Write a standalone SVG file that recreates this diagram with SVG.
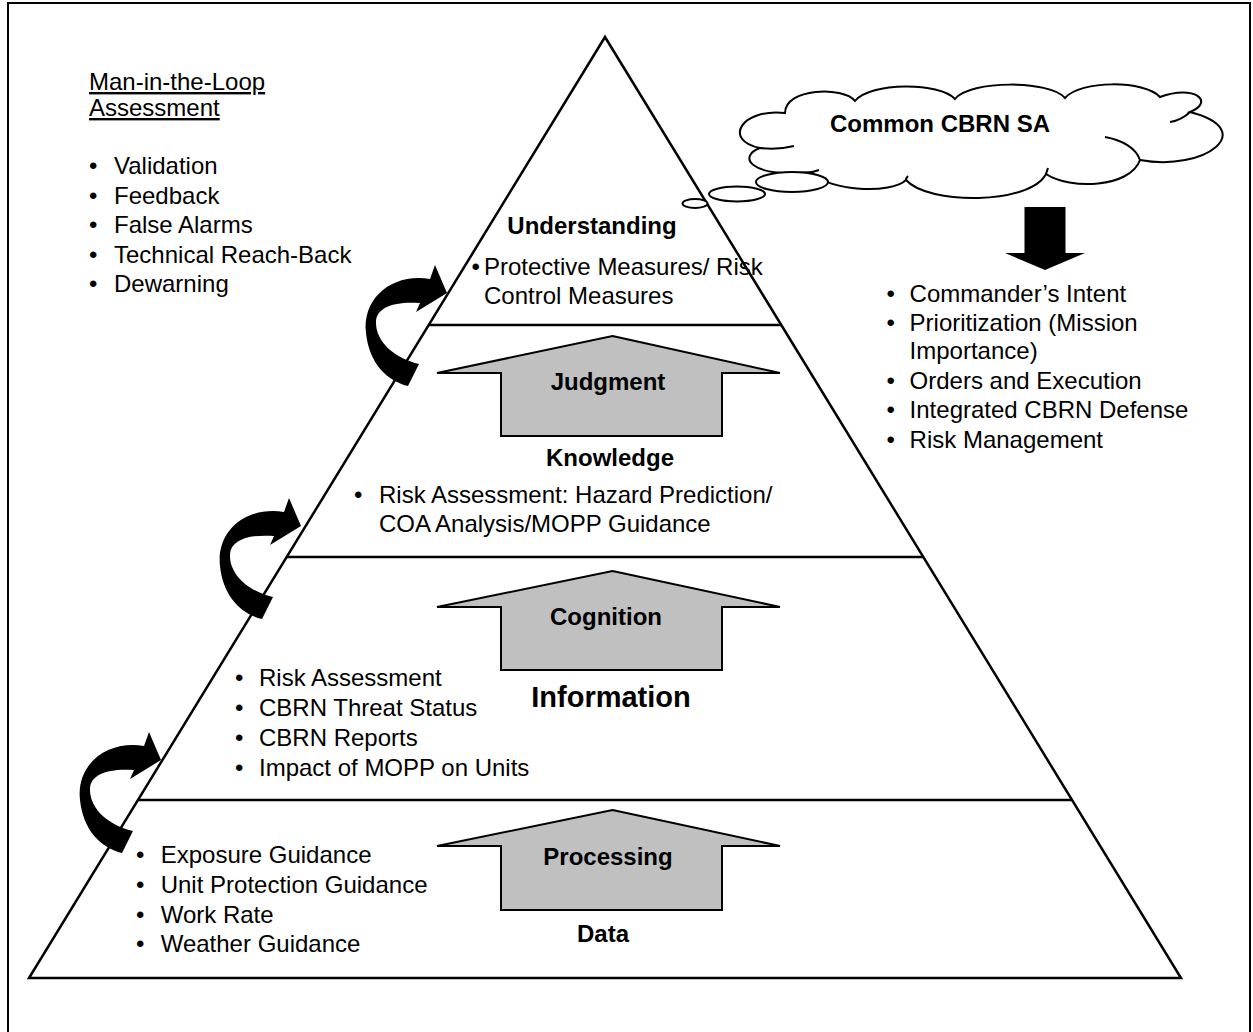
<svg xmlns="http://www.w3.org/2000/svg" xmlns:xlink="http://www.w3.org/1999/xlink" width="1253" height="1032" viewBox="0 0 1253 1032">
<style>
text{font-family:"Liberation Sans",Arial,sans-serif;font-size:24px;fill:#000}
.b{font-weight:bold;text-anchor:middle}
.ln{stroke:#000;stroke-width:2.5;fill:none}
.ga{fill:#C0C0C0;stroke:#000;stroke-width:2}
.cl{fill:#fff;stroke:#000;stroke-width:2}
.hk{fill:none;stroke:#000;stroke-width:2}
</style>
<defs>
<path id="curv" d="M0,0 L-12,-28 L-17,-14 C-55,-20 -85,5 -81,40 C-78,70 -60,88 -39,93 L-28,71 C-50,66 -72,50 -71,28 C-70,14 -52,8 -27,10 L-31,19 Z" fill="#000"/>
</defs>
<rect x="8" y="3" width="1242" height="1040" fill="#fff" stroke="#000" stroke-width="2"/>

<g id="pyramid">
<polygon points="605,37 1181,978 29,978" fill="none" stroke="#000" stroke-width="2.5"/>
<line class="ln" x1="428.7" y1="325" x2="781.3" y2="325"/>
<line class="ln" x1="286.7" y1="557" x2="923.3" y2="557"/>
<line class="ln" x1="138" y1="800" x2="1072" y2="800"/>
</g>

<g id="assessment">
<text x="89" y="90" text-decoration="underline">Man-in-the-Loop</text>
<text x="89" y="116" text-decoration="underline">Assessment</text>
<text x="89" y="174">•</text><text x="114" y="174">Validation</text>
<text x="89" y="203.5">•</text><text x="114" y="203.5">Feedback</text>
<text x="89" y="233">•</text><text x="114" y="233">False Alarms</text>
<text x="89" y="262.5">•</text><text x="114" y="262.5">Technical Reach-Back</text>
<text x="89" y="292">•</text><text x="114" y="292">Dewarning</text>
</g>

<g id="understanding">
<text class="b" x="592" y="234">Understanding</text>
<text x="471.5" y="275">•</text><text x="484" y="275">Protective Measures/ Risk</text>
<text x="484" y="304">Control Measures</text>
</g>

<g id="judgment">
<polygon class="ga" points="612.5,336 780,373 722,373 722,436 501,436 501,373 437,373"/>
<text class="b" x="608" y="390">Judgment</text>
</g>

<g id="knowledge">
<text class="b" x="610" y="466">Knowledge</text>
<text x="354" y="503">•</text><text x="379" y="503">Risk Assessment: Hazard Prediction/</text>
<text x="379" y="532">COA Analysis/MOPP Guidance</text>
</g>

<g id="cognition">
<polygon class="ga" points="612.5,571 780,607 722,607 722,670 501,670 501,607 437,607"/>
<text class="b" x="606" y="625">Cognition</text>
</g>

<g id="information">
<text class="b" x="611" y="707" style="font-size:29px">Information</text>
<text x="235" y="686">•</text><text x="259" y="686">Risk Assessment</text>
<text x="235" y="716">•</text><text x="259" y="716">CBRN Threat Status</text>
<text x="235" y="746">•</text><text x="259" y="746">CBRN Reports</text>
<text x="235" y="776">•</text><text x="259" y="776">Impact of MOPP on Units</text>
</g>

<g id="processing">
<polygon class="ga" points="612.5,810 780,846 722,846 722,910 501,910 501,846 437,846"/>
<text class="b" x="608" y="865">Processing</text>
</g>

<g id="data">
<text class="b" x="603" y="942">Data</text>
<text x="136" y="863">•</text><text x="160.7" y="863">Exposure Guidance</text>
<text x="136" y="893">•</text><text x="160.7" y="893">Unit Protection Guidance</text>
<text x="136" y="922.5">•</text><text x="160.7" y="922.5">Work Rate</text>
<text x="136" y="952">•</text><text x="160.7" y="952">Weather Guidance</text>
</g>

<g id="cloud">
<path class="cl" d="M785,113 C742,108 722,140 760,148 C738,156 748,178 812,172 C828,192 892,194 906,180 C928,205 1030,205 1046,174 C1070,190 1130,188 1140,160 C1205,172 1260,130 1190,112 C1215,102 1195,84 1160,97 C1145,80 1080,80 1065,98 C1050,80 970,80 955,99 C940,82 870,82 855,101 C843,86 785,88 785,113 Z"/>
<path class="hk" d="M760,148 Q778,150 794,146 M812,172 Q816,171 819,170 M906,180 Q906,178 908,176 M1046,174 Q1047,171 1048,168 M1105,137 C1122,140 1136,148 1140,160 M1190,112 Q1182,120 1170,122"/>
<ellipse class="cl" cx="792" cy="182" rx="36" ry="10"/>
<ellipse class="cl" cx="737" cy="194" rx="28" ry="7.5"/>
<ellipse class="cl" cx="695" cy="203.5" rx="12.5" ry="4.5"/>
<text class="b" x="940" y="132">Common CBRN SA</text>
</g>

<g id="commander">
<text x="886.5" y="302">•</text><text x="909.6" y="302">Commander’s Intent</text>
<text x="886.5" y="331">•</text><text x="909.6" y="331">Prioritization (Mission</text>
<text x="909.6" y="359">Importance)</text>
<text x="886.5" y="388.5">•</text><text x="909.6" y="388.5">Orders and Execution</text>
<text x="886.5" y="418">•</text><text x="909.6" y="418">Integrated CBRN Defense</text>
<text x="886.5" y="448">•</text><text x="909.6" y="448">Risk Management</text>
</g>

<g id="connectors">
<use xlink:href="#curv" href="#curv" x="447" y="293"/>
<use xlink:href="#curv" href="#curv" x="301" y="526"/>
<use xlink:href="#curv" href="#curv" x="161" y="760"/>
<polygon points="1024.5,207 1065.5,207 1065.5,253 1085,253 1045,270 1005,253 1024.5,253" fill="#000"/>
</g>
</svg>
